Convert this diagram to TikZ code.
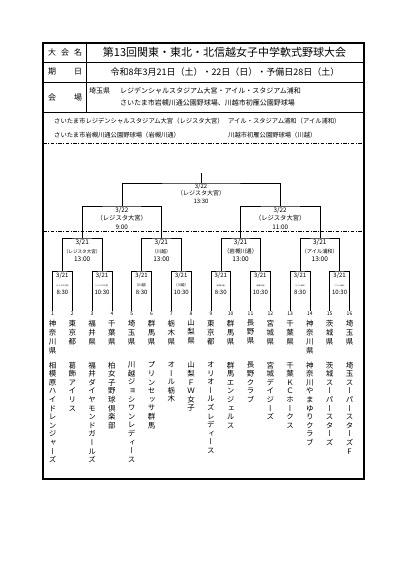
\documentclass[tikz,border=0pt]{standalone}
\usepackage{fontspec}
\setmainfont{Noto Sans CJK JP}
\newfontfamily\tatefont[RawFeature={+vert}]{Noto Sans CJK JP}
\newcommand{\fsz}[1]{\fontsize{#1}{#1}\selectfont}

\tikzset{
  frameline/.style={line width=1.1pt},
  rowline/.style={line width=0.6pt},
  bkt/.style={line width=0.6pt},
  dashdotline/.style={line width=0.8pt, dash pattern=on 3.5pt off 1.5pt on 1pt off 1.5pt},
  mlabel/.style={align=center, inner sep=0pt},
  teamno/.style={font=\fsz{5}, inner sep=1pt},
  prefcol/.style={anchor=north, align=center, inner sep=0pt, font=\tatefont\fontsize{7.5}{9}\selectfont},
  namecol/.style={anchor=north, align=center, inner sep=0pt, font=\tatefont\fontsize{7.5}{8.6}\selectfont},
  hdrlabel/.style={inner sep=0pt, font=\fsz{8}},
  small/.style={anchor=west, inner sep=0pt, font=\fsz{6.3}}
}

\begin{document}
\begin{tikzpicture}[x=1pt,y=-1pt]
\useasboundingbox (0,0) rectangle (401,568);

\draw[frameline] (43,43) rectangle (364,479);
\draw[rowline] (43,62) -- (364,62);
\draw[rowline] (43,82) -- (364,82);
\draw[rowline] (43,112) -- (364,112);
\draw[rowline] (86,43) -- (86,112);
\draw[dashdotline] (43,143) -- (364,143);
\draw[dashdotline] (43,231) -- (364,231);

\node[hdrlabel] (lab1) at (65,52.5) {\makebox[34pt]{大\hfill 会\hfill 名}};
\node[hdrlabel] (lab2) at (65,72) {\makebox[34pt]{期\hfill 日}};
\node[hdrlabel] (lab3) at (65,97) {\makebox[34pt]{会\hfill 場}};
\node[inner sep=0pt, font=\fsz{11}] (title) at (224.5,52.5) {第13回関東・東北・北信越女子中学軟式野球大会};
\node[inner sep=0pt, font=\fsz{9}] (date) at (225,72) {令和8年3月21日（土）・22日（日）・予備日28日（土）};
\node[small, font=\fsz{7}] (pref) at (89,91) {埼玉県};
\node[small, font=\fsz{7}] (venue1) at (120,91) {レジデンシャルスタジアム大宮・アイル・スタジアム浦和};
\node[small, font=\fsz{7}] (venue2) at (120,103) {さいたま市岩槻川通公園野球場、川越市初雁公園野球場};

\node[small] (abbr1) at (54,121) {さいたま市レジデンシャルスタジアム大宮（レジスタ大宮）};
\node[small] (abbr2) at (228,121) {アイル・スタジアム浦和（アイル浦和）};
\node[small] (abbr3) at (54,135) {さいたま市岩槻川通公園野球場（岩槻川通）};
\node[small] (abbr4) at (228,135) {川越市初雁公園野球場（川越）};

\node[teamno] (n1) at (52.5,314) {1};
\node[teamno] (n2) at (72.3,314) {2};
\node[teamno] (n3) at (92.1,314) {3};
\node[teamno] (n4) at (111.9,314) {4};
\node[teamno] (n5) at (131.7,314) {5};
\node[teamno] (n6) at (151.5,314) {6};
\node[teamno] (n7) at (171.3,314) {7};
\node[teamno] (n8) at (191.1,314) {8};
\node[teamno] (n9) at (210.9,314) {9};
\node[teamno] (n10) at (230.7,314) {10};
\node[teamno] (n11) at (250.5,314) {11};
\node[teamno] (n12) at (270.3,314) {12};
\node[teamno] (n13) at (290.1,314) {13};
\node[teamno] (n14) at (309.9,314) {14};
\node[teamno] (n15) at (329.7,314) {15};
\node[teamno] (n16) at (349.5,314) {16};

\node[prefcol] (p1) at (52.5,319.6) {神\\奈\\川\\県};
\node[prefcol] (p2) at (72.3,319.6) {東\\京\\都};
\node[prefcol] (p3) at (92.1,319.6) {福\\井\\県};
\node[prefcol] (p4) at (111.9,319.6) {千\\葉\\県};
\node[prefcol] (p5) at (131.7,319.6) {埼\\玉\\県};
\node[prefcol] (p6) at (151.5,319.6) {群\\馬\\県};
\node[prefcol] (p7) at (171.3,319.6) {栃\\木\\県};
\node[prefcol] (p8) at (191.1,319.6) {山\\梨\\県};
\node[prefcol] (p9) at (210.9,319.6) {東\\京\\都};
\node[prefcol] (p10) at (230.7,319.6) {群\\馬\\県};
\node[prefcol] (p11) at (250.5,319.6) {長\\野\\県};
\node[prefcol] (p12) at (270.3,319.6) {宮\\城\\県};
\node[prefcol] (p13) at (290.1,319.6) {千\\葉\\県};
\node[prefcol] (p14) at (309.9,319.6) {神\\奈\\川\\県};
\node[prefcol] (p15) at (329.7,319.6) {茨\\城\\県};
\node[prefcol] (p16) at (349.5,319.6) {埼\\玉\\県};

\node[namecol] (t1) at (52.5,361.6) {相\\模\\原\\ハ\\イ\\ド\\レ\\ン\\ジ\\ャ\\ー\\ズ};
\node[namecol] (t2) at (72.3,361.6) {葛\\飾\\ア\\イ\\リ\\ス};
\node[namecol] (t3) at (92.1,361.6) {福\\井\\ダ\\イ\\ヤ\\モ\\ン\\ド\\ガ\\ー\\ル\\ズ};
\node[namecol] (t4) at (111.9,361.6) {柏\\女\\子\\野\\球\\倶\\楽\\部};
\node[namecol] (t5) at (131.7,361.6) {川\\越\\ジ\\ョ\\シ\\ワ\\ン\\レ\\デ\\ィ\\ー\\ス};
\node[namecol] (t6) at (151.5,361.6) {プ\\リ\\ン\\セ\\ッ\\サ\\群\\馬};
\node[namecol] (t7) at (171.3,361.6) {オ\\ー\\ル\\栃\\木};
\node[namecol] (t8) at (191.1,361.6) {山\\梨\\Ｆ\\Ｗ\\女\\子};
\node[namecol] (t9) at (210.9,361.6) {オ\\リ\\オ\\ー\\ル\\ズ\\レ\\デ\\ィ\\ー\\ス};
\node[namecol] (t10) at (230.7,361.6) {群\\馬\\エ\\ン\\ジ\\ェ\\ル\\ス};
\node[namecol] (t11) at (250.5,361.6) {長\\野\\ク\\ラ\\ブ};
\node[namecol] (t12) at (270.3,361.6) {宮\\城\\デ\\イ\\ジ\\ー\\ズ};
\node[namecol] (t13) at (290.1,361.6) {千\\葉\\Ｋ\\Ｃ\\ホ\\ー\\ク\\ス};
\node[namecol] (t14) at (309.9,361.6) {神\\奈\\川\\や\\ま\\ゆ\\り\\ク\\ラ\\ブ};
\node[namecol] (t15) at (329.7,361.6) {茨\\城\\ス\\ー\\パ\\ー\\ス\\タ\\ー\\ズ};
\node[namecol] (t16) at (349.5,361.6) {埼\\玉\\ス\\ー\\パ\\ー\\ス\\タ\\ー\\ズ\\F};

\coordinate (r1) at (62.4,271);
\coordinate (r2) at (102.0,271);
\coordinate (r3) at (141.6,271);
\coordinate (r4) at (181.2,271);
\coordinate (r5) at (220.8,271);
\coordinate (r6) at (260.4,271);
\coordinate (r7) at (300.0,271);
\coordinate (r8) at (339.6,271);
\coordinate (qf1) at (82.2,238);
\coordinate (qf2) at (161.4,238);
\coordinate (qf3) at (240.6,238);
\coordinate (qf4) at (319.8,238);
\coordinate (sf1) at (121.8,206);
\coordinate (sf2) at (280.2,206);
\coordinate (fin) at (201,183);
\coordinate (top) at (201,173);

\draw[bkt] (n1.north) |- (r1) -| (n2.north);
\draw[bkt] (n3.north) |- (r2) -| (n4.north);
\draw[bkt] (n5.north) |- (r3) -| (n6.north);
\draw[bkt] (n7.north) |- (r4) -| (n8.north);
\draw[bkt] (n9.north) |- (r5) -| (n10.north);
\draw[bkt] (n11.north) |- (r6) -| (n12.north);
\draw[bkt] (n13.north) |- (r7) -| (n14.north);
\draw[bkt] (n15.north) |- (r8) -| (n16.north);
\draw[bkt] (r1) |- (qf1) -| (r2);
\draw[bkt] (r3) |- (qf2) -| (r4);
\draw[bkt] (r5) |- (qf3) -| (r6);
\draw[bkt] (r7) |- (qf4) -| (r8);
\draw[bkt] (qf1) |- (sf1) -| (qf2);
\draw[bkt] (qf3) |- (sf2) -| (qf4);
\draw[bkt] (sf1) |- (fin) -| (sf2);
\draw[bkt] (fin) -- (top);

\node[mlabel, font=\fontsize{6}{7.5}\selectfont] (lfin) at (201,193.5) {3/22\\（レジスタ大宮）\\13:30};
\node[mlabel, font=\fontsize{6.3}{8.75}\selectfont] (lsf1) at (121.8,218.3) {3/22\\（レジスタ大宮）\\9:00};
\node[mlabel, font=\fontsize{6.3}{8.75}\selectfont] (lsf2) at (280.2,218.3) {3/22\\（レジスタ大宮）\\11:00};

\node[mlabel, font=\fontsize{6.5}{8.6}\selectfont] (lqf1) at (82.2,250.7) {3/21\\{\fsz{4.6}（レジスタ大宮）}\\13:00};
\node[mlabel, font=\fontsize{6.5}{8.6}\selectfont] (lqf2) at (161.4,250.7) {3/21\\{\fsz{4.8}（川越）}\\13:00};
\node[mlabel, font=\fontsize{6.5}{8.6}\selectfont] (lqf3) at (240.6,250.7) {3/21\\{\fsz{5.6}（岩槻川通）}\\13:00};
\node[mlabel, font=\fontsize{6.5}{8.6}\selectfont] (lqf4) at (319.8,250.7) {3/21\\{\fsz{5.2}（アイル浦和）}\\13:00};

\node[mlabel, font=\fontsize{6}{8.8}\selectfont] (lr1) at (62.4,283.8) {3/21\\{\fsz{1.9}（レジスタ大宮）}\\8:30};
\node[mlabel, font=\fontsize{6}{8.8}\selectfont] (lr2) at (102.0,283.8) {3/21\\{\fsz{1.9}（レジスタ大宮）}\\10:30};
\node[mlabel, font=\fontsize{6}{8.8}\selectfont] (lr3) at (141.6,283.8) {3/21\\{\fsz{3.5}（川越）}\\8:30};
\node[mlabel, font=\fontsize{6}{8.8}\selectfont] (lr4) at (181.2,283.8) {3/21\\{\fsz{3.5}（川越）}\\10:30};
\node[mlabel, font=\fontsize{6}{8.8}\selectfont] (lr5) at (220.8,283.8) {3/21\\{\fsz{1.8}（岩槻川通）}\\8:30};
\node[mlabel, font=\fontsize{6}{8.8}\selectfont] (lr6) at (260.4,283.8) {3/21\\{\fsz{1.8}（岩槻川通）}\\10:30};
\node[mlabel, font=\fontsize{6}{8.8}\selectfont] (lr7) at (300.0,283.8) {3/21\\{\fsz{1.7}（アイル浦和）}\\8:30};
\node[mlabel, font=\fontsize{6}{8.8}\selectfont] (lr8) at (339.6,283.8) {3/21\\{\fsz{1.7}（アイル浦和）}\\10:30};
\end{tikzpicture}
\end{document}
